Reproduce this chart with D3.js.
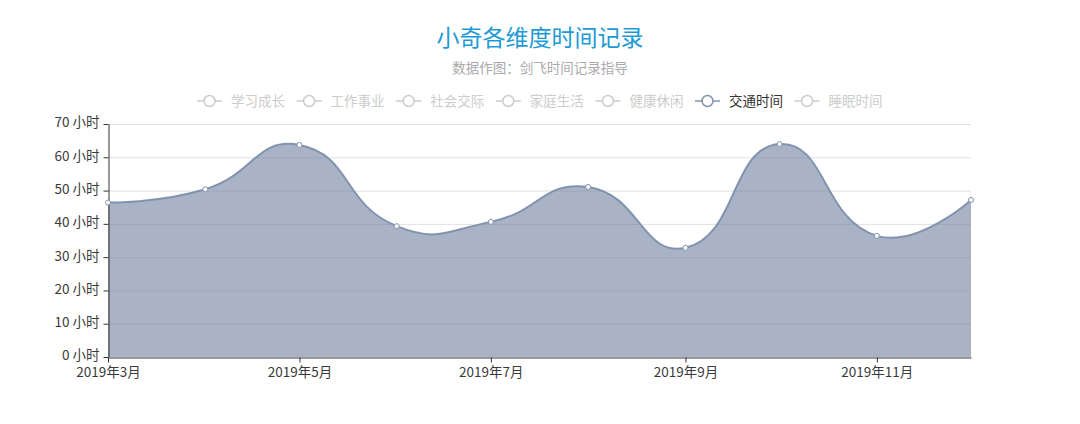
<!DOCTYPE html>
<html><head><meta charset="utf-8">
<script src="https://cdn.jsdelivr.net/npm/d3@7/dist/d3.min.js"></script>
<style>body{margin:0;background:#fff;}svg{display:block;font-family:"Microsoft YaHei","Noto Sans CJK SC",sans-serif;}</style>
</head><body>
<svg id="c" width="1080" height="424"></svg>
<script>
const months = ["2019-03","2019-04","2019-05","2019-06","2019-07","2019-08","2019-09","2019-10","2019-11","2019-12"];
const trafficHours = [46.4, 50.4, 63.7, 39.3, 40.6, 51.1, 32.8, 64.0, 36.4, 47.2];
const legendNames = ["学习成长","工作事业","社会交际","家庭生活","健康休闲","交通时间","睡眠时间"];
const activeSeries = "交通时间";
const yTicks = [0,10,20,30,40,50,60,70];
const titleText = "小奇各维度时间记录";
const subtitleText = "数据作图：剑飞时间记录指导";

(function(){
const svg = d3.select("#c");
const W = 1080;
const pLeft = 108, pRight = 971, pTop = 124, pBottom = 357;
const parse = d3.timeParse("%Y-%m");
const dates = months.map(parse);
const x = d3.scaleTime().domain([dates[0], dates[dates.length-1]]).range([pLeft, pRight]);
const y = d3.scaleLinear().domain([0,70]).range([pBottom, pTop]);
const lineColor = "#8293b0";
const ff = '"Microsoft YaHei","Noto Sans CJK SC",sans-serif';

// title
svg.append("text").attr("x", W/2).attr("y", 46).attr("text-anchor","middle")
  .attr("font-size", 23).attr("fill", "#1c9ad6").text(titleText);
svg.append("text").attr("x", W/2).attr("y", 73).attr("text-anchor","middle")
  .attr("font-size", 13.5).attr("fill", "#aaa").text(subtitleText);

// legend
const lg = svg.append("g");
legendNames.forEach((n,i)=>{
  const x0 = 197 + i*99.6, yc = 101;
  const act = n === activeSeries;
  const col = act ? lineColor : "#ccc";
  const g = lg.append("g");
  g.append("line").attr("x1",x0).attr("x2",x0+25).attr("y1",yc).attr("y2",yc).attr("stroke",col).attr("stroke-width",1.5);
  g.append("circle").attr("cx",x0+12.5).attr("cy",yc).attr("r",5.5).attr("fill","#fff").attr("stroke",col).attr("stroke-width",1.5);
  g.append("text").attr("x",x0+34).attr("y",yc+5).attr("font-size",13.5).attr("fill", act ? "#333" : "#ccc").text(n);
});

// grid
svg.append("g").selectAll("line").data(yTicks.filter(d=>d>0)).join("line")
  .attr("x1",pLeft).attr("x2",pRight).attr("y1",d=>y(d)+0.5).attr("y2",d=>y(d)+0.5)
  .attr("stroke","#e0e0e0").attr("stroke-width",1);

// ECharts-like smooth bezier
function smoothPath(pts, baseY){
  const p = d3.path();
  const s = 0.5;
  const cps = [];
  for(let i=0;i<pts.length;i++){
    if(i===0||i===pts.length-1){cps.push([pts[i],pts[i]]);continue;}
    const pr=pts[i-1], nx=pts[i+1], pt=pts[i];
    const vx=(nx[0]-pr[0])*s, vy=(nx[1]-pr[1])*s;
    let d0=Math.hypot(pt[0]-pr[0],pt[1]-pr[1]), d1=Math.hypot(pt[0]-nx[0],pt[1]-nx[1]);
    const sum=d0+d1; d0/=sum; d1/=sum;
    cps.push([[pt[0]-vx*d0, pt[1]-vy*d0],[pt[0]+vx*d1, pt[1]+vy*d1]]);
  }
  p.moveTo(pts[0][0],pts[0][1]);
  for(let i=1;i<pts.length;i++){
    const c0=cps[i-1][1], c1=cps[i][0];
    p.bezierCurveTo(c0[0],c0[1],c1[0],c1[1],pts[i][0],pts[i][1]);
  }
  if(baseY!==undefined){
    p.lineTo(pts[pts.length-1][0],baseY);
    p.lineTo(pts[0][0],baseY);
    p.closePath();
  }
  return p.toString();
}
const pts = dates.map((d,i)=>[x(d), y(trafficHours[i])]);
svg.append("path").attr("d", smoothPath(pts, y(0))).attr("fill","#6f819f").attr("fill-opacity",0.6);
svg.append("path").attr("d", smoothPath(pts)).attr("fill","none").attr("stroke",lineColor).attr("stroke-width",2);

// axes
const yAxis = svg.append("g").attr("transform",`translate(${pLeft+0.5},0)`)
  .call(d3.axisLeft(y).tickValues(yTicks).tickSize(5).tickSizeOuter(0).tickPadding(4).tickFormat(d=>d+" 小时"));
const xAxis = svg.append("g").attr("transform",`translate(0,${pBottom+0.5})`)
  .call(d3.axisBottom(x).ticks(d3.timeMonth.every(2)).tickSize(5).tickSizeOuter(0).tickPadding(5).tickFormat(d3.timeFormat("%Y年%-m月")));
[yAxis,xAxis].forEach(a=>{
  a.select(".domain").attr("stroke","#333");
  a.selectAll(".tick line").attr("stroke","#333");
  a.selectAll(".tick text").attr("fill","#3a3a3a").attr("font-size",13.5).attr("font-family",ff);
});
yAxis.selectAll(".tick text").attr("dy","0.22em");

// symbols
svg.append("g").selectAll("circle").data(pts).join("circle")
  .attr("cx",d=>d[0]).attr("cy",d=>d[1]).attr("r",2.5)
  .attr("fill","#fff").attr("stroke",lineColor).attr("stroke-width",1);
})();
</script>
</body></html>
